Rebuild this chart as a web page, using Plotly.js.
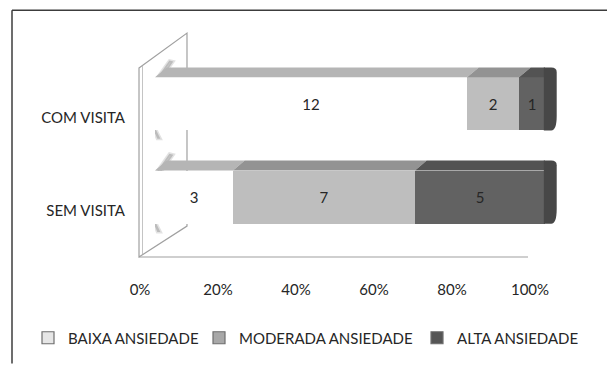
<!DOCTYPE html>
<html>
<head>
<meta charset="utf-8">
<script src="https://cdn.plot.ly/plotly-3.0.1.min.js"></script>
<style>html,body{margin:0;padding:0;background:#fff;}#chart{width:607px;height:365px;}</style>
</head>
<body>
<div id="chart"></div>
<script>
// ---- data ----
const categories = ['SEM VISITA', 'COM VISITA'];
const baixa = [3, 12];
const moderada = [7, 2];
const alta = [5, 1];
const seriesNames = ['BAIXA ANSIEDADE', 'MODERADA ANSIEDADE', 'ALTA ANSIEDADE'];
const tickVals = [0, 20, 40, 60, 80, 100];
const tickText = ['0%', '20%', '40%', '60%', '80%', '100%'];

// ---- style ----
const frontColors = ['#ffffff', '#bebebe', '#626262'];
const legendColors = ['#e6e6e6', '#a8a8a8', '#555555'];
const topColors = ['#b5b5b5', '#939393', '#535353'];
const sideColor = '#474747';
const textColor = '#262626';
const FONT = 'Lato, "Open Sans", sans-serif';
const L = 155, R = 46, T = 48, B = 111, W = 607, H = 365;
const PW = W - L - R, PH = H - T - B;
const barWidth = 0.57;
const dx = 3.0;     // depth offset in x units
const dy = 0.107;   // depth offset in y units

const series = [baixa, moderada, alta];
const yPos = categories.map((c, i) => i);
const totals = yPos.map(i => series.reduce((s, arr) => s + arr[i], 0));
const pct = series.map(arr => arr.map((v, i) => v / totals[i] * 100));

const traces = series.map((arr, s) => ({
  type: 'bar', orientation: 'h',
  x: pct[s], y: yPos, width: barWidth,
  text: arr.map(String), textposition: 'inside', insidetextanchor: 'middle',
  textfont: {family: FONT, size: 15, color: textColor},
  marker: {color: frontColors[s], line: {width: 0}},
  hoverinfo: 'skip', showlegend: false
}));
// legend-only entries (no drawn data)
seriesNames.forEach((n, s) => {
  traces.push({
    type: 'bar', orientation: 'h', x: [null], y: [null], name: n,
    marker: {color: legendColors[s], line: {color: '#6e6e6e', width: 1.2}},
    legend: s === 0 ? 'legend' : 'legend' + (s + 1), showlegend: true, hoverinfo: 'skip'
  });
});

// helpers for decoration in pixel space
const px = x => (x - L) / PW;
const py = y => (H - B - y) / PH;
function pathPx(pts) {
  return 'M' + pts.map(p => px(p[0]).toFixed(4) + ',' + py(p[1]).toFixed(4)).join(' L') + ' Z';
}

const shapes = [];
// chart frame
shapes.push({type: 'line', xref: 'paper', yref: 'paper', x0: px(12), y0: py(10), x1: px(607), y1: py(10), line: {color: '#3c3c3c', width: 1.5}});
shapes.push({type: 'line', xref: 'paper', yref: 'paper', x0: px(12), y0: py(10), x1: px(12), y1: py(365), line: {color: '#3c3c3c', width: 1.5}});
// wall
shapes.push({type: 'path', xref: 'paper', yref: 'paper', layer: 'below',
  path: pathPx([[139, 68], [187, 33], [187, 227], [139, 258]]),
  fillcolor: '#ffffff', line: {color: '#a0a0a0', width: 1.2}});
shapes.push({type: 'line', xref: 'paper', yref: 'paper', layer: 'below', x0: px(142.5), y0: py(66), x1: px(142.5), y1: py(255), line: {color: '#c4c4c4', width: 1}});
// floor
shapes.push({type: 'line', xref: 'paper', yref: 'paper', layer: 'below', x0: px(139), y0: py(258), x1: px(528), y1: py(258), line: {color: '#a0a0a0', width: 1.2}});

// 3D top / side faces and wall shadows derived from the bars
yPos.forEach(i => {
  let cum = 0;
  const yt = yPos[i] + barWidth / 2, yb = yPos[i] - barWidth / 2;
  // soft shadows on the wall at the bar's left end
  shapes.push({type: 'path', xref: 'x', yref: 'y', layer: 'below',
    path: `M0.3,${yt - 0.02} L3.7,${yt + 0.18} L4.7,${yt + 0.17} L1.5,${yt - 0.02} Z`,
    fillcolor: 'rgba(120,120,120,0.40)', line: {color: 'rgba(160,160,160,0.30)', width: 3}});
  shapes.push({type: 'path', xref: 'x', yref: 'y', layer: 'below',
    path: `M0.2,${yb + 0.01} L1.4,${yb - 0.09} L0.6,${yb - 0.09} L-0.4,${yb + 0.01} Z`,
    fillcolor: 'rgba(120,120,120,0.40)', line: {color: 'rgba(160,160,160,0.30)', width: 3}});
  series.forEach((arr, s) => {
    const x0 = cum, x1 = cum + pct[s][i];
    cum = x1;
    const last = s === series.length - 1;
    const xe = last ? x1 : x1 + dx;
    shapes.push({type: 'path', xref: 'x', yref: 'y', layer: 'above',
      path: `M${x0},${yt} L${x1},${yt} L${xe},${yt + dy} L${x0 + dx},${yt + dy} Z`,
      fillcolor: topColors[s], line: {width: 0}});
    if (last) {
      // rounded end cap (right face)
      const r = 1.4, ry = 0.05;
      shapes.push({type: 'path', xref: 'x', yref: 'y', layer: 'above',
        path: `M${x1 - 0.3},${yt} L${x1 - 0.3},${yt + dy} L${x1 + dx - r},${yt + dy} Q${x1 + dx},${yt + dy} ${x1 + dx},${yt + dy - ry} L${x1 + dx},${yb + dy + ry} Q${x1 + dx},${yb} ${x1 + dx - r},${yb} L${x1 - 0.3},${yb} Z`,
        fillcolor: sideColor, line: {width: 0}});
    }
  });
});

const legendBase = {orientation: 'h', yanchor: 'middle', xanchor: 'left', y: py(338),
  font: {family: FONT, size: 15, color: textColor}, bgcolor: 'rgba(0,0,0,0)'};

const layout = {
  width: W, height: H,
  margin: {l: L, r: R, t: T, b: B, pad: 0},
  paper_bgcolor: '#ffffff', plot_bgcolor: 'rgba(0,0,0,0)',
  barmode: 'stack', bargap: 0,
  font: {family: FONT, size: 15, color: textColor},
  xaxis: {range: [0, 104.1], tickvals: tickVals, ticktext: tickText, showgrid: false, zeroline: false,
    showline: false, ticks: '', ticklabelshift: -15, ticklabelstandoff: 26,
    tickfont: {family: FONT, size: 15, color: textColor}, fixedrange: true},
  yaxis: {range: [-0.6, 1.6], tickvals: yPos, ticktext: categories, showgrid: false, zeroline: false,
    showline: false, ticks: '', ticklabelshift: 14, ticklabelstandoff: 29,
    tickfont: {family: FONT, size: 15, color: textColor}, fixedrange: true},
  legend: Object.assign({}, legendBase, {x: px(28)}),
  legend2: Object.assign({}, legendBase, {x: px(199)}),
  legend3: Object.assign({}, legendBase, {x: px(417)}),
  shapes: shapes,
  showlegend: true
};

Plotly.newPlot('chart', traces, layout, {staticPlot: true, displayModeBar: false});
</script>
</body>
</html>
